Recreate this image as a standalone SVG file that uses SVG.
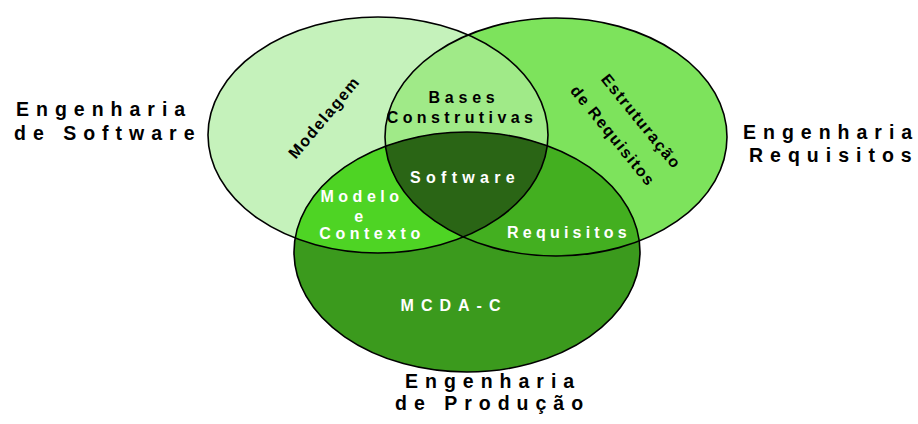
<svg xmlns="http://www.w3.org/2000/svg" width="918" height="424" viewBox="0 0 918 424">
<defs>
<style>
text{font-family:"Liberation Sans",Arial,sans-serif;font-weight:bold}
.outer{font-size:19.5px;letter-spacing:7px;fill:#000}
.blk{font-size:16px;fill:#000}
.wht{font-size:16px;fill:#fff}
.edge{fill:none;stroke:#000;stroke-width:1.6}
</style>
<clipPath id="clipL"><ellipse cx="378" cy="135" rx="170" ry="118"/></clipPath>
<clipPath id="clipR"><ellipse cx="556" cy="137" rx="171" ry="119"/></clipPath>
</defs>
<rect width="918" height="424" fill="#fff"/>
<g id="fills">
<ellipse cx="378" cy="135" rx="170" ry="118" fill="#c5f2bb"/>
<ellipse cx="556" cy="137" rx="171" ry="119" fill="#7de35c"/>
<ellipse cx="378" cy="135" rx="170" ry="118" fill="#a0ea88" clip-path="url(#clipR)"/>
<ellipse cx="467" cy="252" rx="173" ry="120" fill="#3b9a1d"/>
<ellipse cx="467" cy="252" rx="173" ry="120" fill="#4ed424" clip-path="url(#clipL)"/>
<ellipse cx="467" cy="252" rx="173" ry="120" fill="#43af20" clip-path="url(#clipR)"/>
<g clip-path="url(#clipL)"><ellipse cx="467" cy="252" rx="173" ry="120" fill="#2a6515" clip-path="url(#clipR)"/></g>
</g>
<g id="engenharia-software">
<ellipse class="edge" cx="378" cy="135" rx="170" ry="118"/>
<text class="outer" x="16" y="116" letter-spacing="7.8">Engenharia</text>
<text class="outer" x="14" y="140" letter-spacing="6.6">de Software</text>
<text class="blk" font-size="19.5" letter-spacing="1.5" transform="translate(322.5 117) rotate(-50)" text-anchor="middle" x="0.7" y="7">Modelagem</text>
</g>
<g id="engenharia-requisitos">
<ellipse class="edge" cx="556" cy="137" rx="171" ry="119"/>
<text class="outer" x="743" y="139" letter-spacing="5.8">Engenharia</text>
<text class="outer" x="749" y="162" letter-spacing="5.8">Requisitos</text>
<g transform="translate(642 120) rotate(51)">
<text class="blk" font-size="19.5" letter-spacing="1.5" text-anchor="middle" x="0.7" y="7">Estruturação</text>
<text class="blk" font-size="19.5" letter-spacing="1.5" text-anchor="middle" x="-6" y="38">de Requisitos</text>
</g>
</g>
<g id="engenharia-producao">
<ellipse class="edge" cx="467" cy="252" rx="173" ry="120"/>
<text class="outer" x="405" y="388" letter-spacing="6.8">Engenharia</text>
<text class="outer" x="395" y="410" letter-spacing="6.9">de Produção</text>
<text class="wht" font-size="18.5" letter-spacing="7" text-anchor="middle" x="454" y="311">MCDA-C</text>
</g>
<g id="bases-construtivas">
<text class="blk" font-size="15.5" letter-spacing="4.8" text-anchor="middle" x="464" y="103">Bases</text>
<text class="blk" font-size="15.5" letter-spacing="4.4" text-anchor="middle" x="462" y="123">Construtivas</text>
</g>
<g id="software">
<text class="wht" font-size="18" letter-spacing="5.3" text-anchor="middle" x="465" y="183">Software</text>
</g>
<g id="modelo-contexto">
<text class="wht" letter-spacing="4.5" text-anchor="middle" x="362" y="202">Modelo</text>
<text class="wht" letter-spacing="4.5" text-anchor="middle" x="361" y="222">e</text>
<text class="wht" letter-spacing="4.5" text-anchor="middle" x="372" y="239">Contexto</text>
</g>
<g id="requisitos">
<text class="wht" letter-spacing="4.2" text-anchor="middle" x="569" y="238">Requisitos</text>
</g>
</svg>
